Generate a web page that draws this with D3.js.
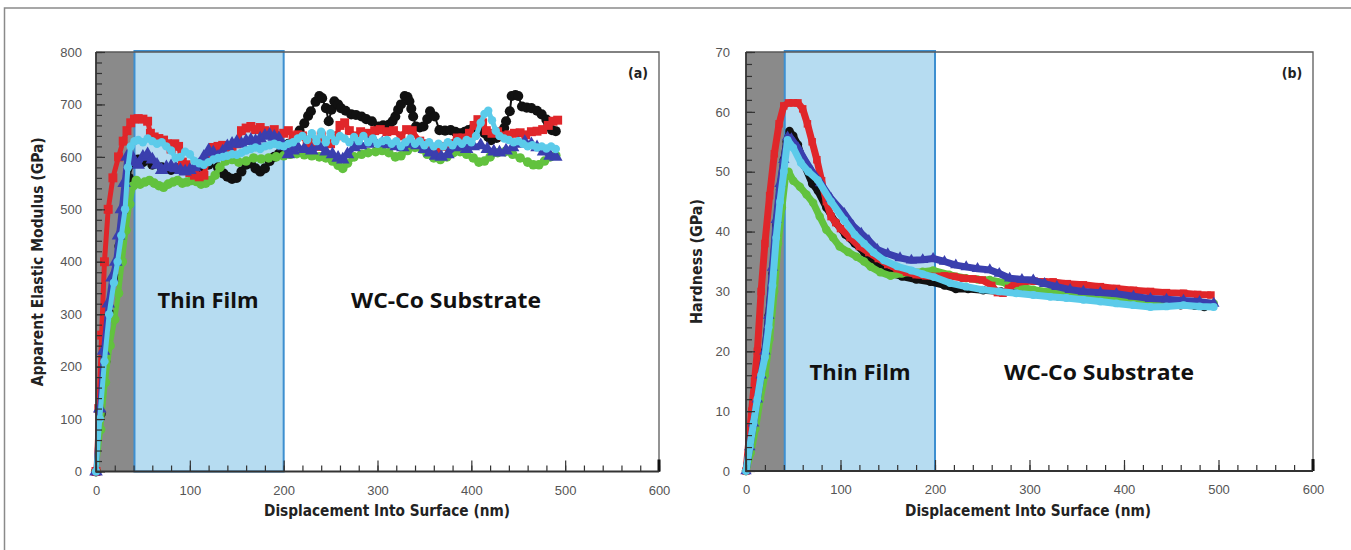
<!DOCTYPE html>
<html>
<head>
<meta charset="utf-8">
<script src="https://cdn.jsdelivr.net/npm/d3@7"></script>
<style>
  body { margin: 0; background: #fff; }
  svg { display: block; }
</style>
</head>
<body>
<svg id="fig" width="1351" height="550"></svg>
<script>
// ---- Axis ticks and labels ----
const depthTicks = [0, 100, 200, 300, 400, 500, 600];
const modulusTicks = [0, 100, 200, 300, 400, 500, 600, 700, 800];
const hardnessTicks = [0, 10, 20, 30, 40, 50, 60, 70];
const filmStart = 41;   // nm, end of the grey tip-contact zone
const filmEnd = 200;    // nm, film / substrate interface

// ---- (a) Apparent elastic modulus (GPa) vs depth (nm) ----
const modulusBlack = [[0,0],[5,110],[10,210],[15,300],[20,370],[25,430],[30,500],[35,560],[40,590],[45,595],[50,590],[60,585],[70,580],[80,575],[90,580],[100,575],[110,580],[120,585],[130,580],[136,568],[140,562],[145,558],[150,560],[155,572],[160,585],[165,588],[170,578],[175,572],[180,578],[185,592],[190,600],[195,606],[200,612],[205,625],[211,636],[217,650],[222,664],[226,678],[229,687],[234,705],[238,716],[241,712],[245,693],[248,668],[251,690],[254,706],[258,700],[261,693],[266,688],[272,681],[277,680],[283,677],[288,672],[294,668],[301,658],[306,660],[312,661],[316,668],[319,677],[322,690],[325,700],[329,716],[332,714],[334,706],[336,692],[338,677],[341,658],[345,656],[349,658],[353,672],[356,687],[361,677],[366,651],[372,650],[378,651],[383,648],[388,645],[393,648],[397,651],[402,655],[407,658],[411,652],[414,645],[418,638],[421,632],[427,636],[432,641],[435,655],[437,668],[441,687],[443,716],[447,718],[450,716],[454,696],[459,694],[464,693],[470,688],[475,681],[480,671],[482,661],[486,651],[490,649]];
const modulusGreen = [[0,0],[5,80],[10,170],[15,240],[20,290],[24,340],[28,400],[32,460],[36,510],[40,545],[43,555],[47,548],[52,552],[57,555],[62,550],[67,545],[72,542],[77,548],[82,552],[87,555],[92,550],[97,552],[102,555],[107,553],[112,548],[117,550],[122,555],[127,565],[132,580],[138,592],[145,595],[152,590],[160,592],[168,598],[176,596],[184,598],[192,600],[200,602],[207,605],[214,606],[222,604],[230,602],[238,600],[245,598],[252,592],[258,584],[263,578],[268,588],[275,600],[283,605],[290,608],[298,610],[305,612],[312,608],[319,600],[325,602],[332,612],[340,618],[347,615],[353,605],[360,598],[367,595],[374,600],[381,608],[388,610],[395,605],[402,598],[408,590],[414,592],[420,600],[428,608],[436,610],[444,605],[452,598],[460,590],[466,585],[472,585],[478,592],[484,600],[490,603]];
const modulusRed = [[0,0],[3,120],[6,260],[9,400],[13,500],[18,560],[24,600],[29,630],[33,650],[37,665],[41,672],[45,673],[50,672],[55,668],[58,645],[62,638],[67,635],[72,632],[76,625],[80,615],[84,625],[88,620],[92,590],[96,585],[100,570],[105,565],[110,562],[115,565],[120,600],[125,618],[130,620],[135,622],[140,618],[145,620],[150,625],[155,650],[160,655],[165,658],[170,652],[175,656],[180,650],[185,645],[190,652],[195,640],[200,645],[205,650],[210,640],[215,642],[220,640],[225,625],[230,632],[235,620],[240,640],[245,630],[250,625],[256,640],[260,660],[265,665],[270,650],[276,640],[282,648],[290,645],[297,650],[303,652],[310,648],[317,650],[325,640],[331,652],[337,650],[345,630],[352,625],[358,615],[364,612],[370,620],[378,625],[385,636],[391,636],[398,645],[403,660],[407,671],[412,665],[416,650],[422,645],[428,648],[434,640],[440,642],[446,645],[452,646],[458,642],[464,648],[470,649],[476,652],[482,660],[487,668],[492,670]];
const modulusBlue = [[0,0],[4,120],[8,230],[13,320],[17,370],[21,400],[24,450],[27,500],[30,550],[33,600],[37,605],[41,590],[45,585],[50,600],[55,605],[60,595],[65,585],[70,575],[75,580],[80,582],[85,578],[90,575],[95,572],[100,575],[105,580],[110,585],[115,600],[120,612],[125,608],[130,600],[135,610],[140,620],[145,625],[150,628],[155,625],[160,630],[165,632],[170,630],[175,635],[180,640],[185,642],[190,638],[195,635],[200,620],[205,605],[210,612],[215,618],[222,615],[230,612],[238,620],[245,610],[252,605],[258,598],[263,595],[268,605],[275,618],[282,622],[290,625],[297,628],[305,626],[312,624],[320,620],[327,618],[335,625],[342,622],[350,615],[356,608],[362,602],[368,600],[375,605],[382,618],[388,620],[395,615],[402,620],[410,622],[417,615],[424,610],[430,608],[437,612],[444,618],[450,625],[457,628],[464,624],[470,618],[477,610],[484,602],[490,600]];
const modulusCyan = [[0,0],[4,100],[9,210],[14,300],[19,360],[23,400],[27,450],[31,500],[34,580],[37,620],[41,630],[45,632],[50,628],[55,635],[60,630],[65,625],[70,628],[75,620],[80,612],[85,598],[90,600],[95,610],[100,605],[105,592],[110,588],[115,585],[120,590],[125,595],[130,598],[135,600],[140,602],[145,605],[150,604],[155,608],[160,612],[165,615],[170,618],[175,615],[180,620],[185,622],[190,625],[195,622],[200,620],[205,625],[210,628],[215,635],[220,640],[225,632],[230,645],[235,630],[240,648],[245,628],[250,645],[255,630],[260,640],[265,635],[270,628],[275,638],[280,630],[285,640],[290,628],[295,635],[300,625],[305,630],[310,632],[315,625],[320,630],[325,620],[330,628],[335,635],[340,625],[345,630],[350,622],[355,628],[360,620],[365,625],[370,620],[375,628],[380,622],[385,630],[390,625],[395,632],[400,628],[405,640],[410,665],[414,682],[418,688],[422,670],[426,650],[430,640],[435,635],[440,632],[445,628],[450,630],[455,625],[460,620],[465,622],[470,618],[475,620],[480,616],[485,620],[490,615]];

// ---- (b) Hardness (GPa) vs depth (nm) ----
const hardnessBlack = [[0,0],[4,4],[8,8],[12,12],[16,16],[20,20],[24,26],[28,33],[32,41],[36,47],[40,52],[43,55],[46,56.8],[50,56],[55,54.5],[62,51],[70,48],[76,46.8],[85,44],[95,41.5],[105,39.5],[115,38],[125,36.5],[135,35],[146,33.6],[153,33],[165,32.5],[180,32],[195,31.6],[210,31],[222,30.4],[235,30.4],[251,30.2],[270,30],[290,29.8],[310,29.5],[330,29.2],[350,29],[370,28.8],[389,28.6],[410,28.3],[430,28],[445,27.9],[460,27.7],[475,27.6],[485,27.4],[492,27.6]];
const hardnessGreen = [[0,0],[5,3],[10,7],[15,12],[20,16],[25,22],[30,30],[34,38],[38,44],[42,49.5],[45,50],[50,48.5],[57,47.5],[64,46.2],[71,44.8],[78,42.5],[85,40.3],[92,39],[99,37.5],[108,36.6],[117,35.8],[125,35],[132,34.1],[142,33.2],[153,32.6],[165,33],[175,33.2],[187,33.3],[198,33.5],[215,32.8],[233,32.2],[245,32],[258,31.9],[275,31.4],[290,30.8],[304,30.3],[322,29.9],[339,29.5],[357,29.2],[375,28.9],[392,28.7],[410,28.5],[428,28.4],[445,28.3],[463,28.2],[480,28.1],[495,28]];
const hardnessRed = [[0,0],[3,5],[6,10],[9,15],[12,20],[16,30],[20,38],[25,46],[30,53],[35,58],[40,61],[45,61.5],[50,61.5],[55,61.5],[60,60.5],[65,58],[70,55],[75,52],[80,48.5],[85,45],[90,42.5],[95,41.5],[100,40.5],[110,39],[120,37.5],[130,36.5],[140,35.5],[150,34.5],[160,33.8],[170,33.2],[180,32.8],[190,32.6],[200,32.5],[210,32.6],[220,32.5],[230,32.2],[240,32.1],[250,31.9],[260,31],[266,29.8],[272,29.7],[278,30.5],[285,31.4],[295,31.7],[305,31.7],[315,31.6],[325,31.6],[340,31.3],[357,31.1],[375,30.8],[392,30.5],[410,30.2],[428,30],[445,29.8],[463,29.7],[478,29.5],[492,29.4]];
const hardnessBlue = [[0,0],[4,4],[8,8],[12,12],[16,16],[20,20],[24,26],[28,34],[32,42],[36,48],[40,52],[44,55.8],[48,55.5],[55,54],[62,52],[70,50],[79,48.1],[90,45.5],[104,43],[113,41],[122,39.7],[130,38.5],[139,37],[150,36.3],[163,35.6],[175,35.2],[187,35.3],[198,35.5],[210,35],[222,34.4],[233,34.1],[245,33.8],[258,33.6],[268,33],[279,32.2],[292,32],[304,31.9],[316,31.3],[329,30.8],[343,30.3],[357,30],[375,29.8],[392,29.6],[410,29.2],[428,28.8],[445,28.7],[463,28.5],[480,28.3],[495,28]];
const hardnessCyan = [[0,0],[4,4],[8,8],[12,12],[16,16],[20,19],[24,24],[28,31],[32,39],[36,45],[40,50],[44,55.3],[50,54],[58,51.5],[66,50],[76,48.6],[90,45],[104,41.9],[115,39.5],[125,38],[135,36.5],[146,35.2],[160,34.2],[175,33.5],[187,32.9],[199,32.4],[216,31.4],[233,30.8],[250,30.3],[268,30],[286,29.7],[304,29.4],[322,29.1],[339,28.9],[357,28.6],[375,28.3],[392,28],[410,27.7],[428,27.4],[445,27.5],[463,27.7],[480,27.5],[495,27.4]];

// ---- Marker styles for the five indents (drawn bottom to top) ----
const seriesStyle = [
  { key: "black", color: "#111111", symbol: d3.symbolCircle   },
  { key: "green", color: "#62c23e", symbol: d3.symbolCircle   },
  { key: "red",   color: "#e0262a", symbol: d3.symbolSquare   },
  { key: "blue",  color: "#3a3fae", symbol: d3.symbolTriangle },
  { key: "cyan",  color: "#5ccbea", symbol: d3.symbolCircle   }
];

const panels = [
  {
    tag: "(a)", yTitle: "Apparent Elastic Modulus (GPa)",
    x0: 96, x1: 659, y0: 471.5, y1: 52,
    yMax: 800, yTicks: modulusTicks, yMinorStep: 20, yPad: 14,
    yTitleX: 38, yTitleLen: 249, xTitleX: 387,
    film: [208, 308], substrate: [446, 308],
    series: [modulusBlack, modulusGreen, modulusRed, modulusBlue, modulusCyan],
    lineW: [2, 5, 5, 5, 5],
    markSize: [80, 72, 80, 80, 56]
  },
  {
    tag: "(b)", yTitle: "Hardness (GPa)",
    x0: 746, x1: 1313, y0: 471, y1: 52,
    yMax: 70, yTicks: hardnessTicks, yMinorStep: 2, yPad: 16,
    yTitleX: 697, yTitleLen: 125, xTitleX: 1028,
    film: [860, 380], substrate: [1099, 380],
    series: [hardnessBlack, hardnessGreen, hardnessRed, hardnessBlue, hardnessCyan],
    lineW: [7, 7, 7, 7, 7],
    markSize: [56, 56, 56, 56, 48]
  }
];

const svg = d3.select("#fig");
const narrow = "'Liberation Sans Narrow', 'DejaVu Sans Condensed', 'Liberation Sans', sans-serif";

// figure border (top and left edges)
svg.append("path")
  .attr("d", "M4.5,550 V8 H1351")
  .attr("fill", "none").attr("stroke", "#8a8a8a").attr("stroke-width", 1.5);

panels.forEach(p => {
  const x = d3.scaleLinear().domain([0, 600]).range([p.x0, p.x1]);
  const y = d3.scaleLinear().domain([0, p.yMax]).range([p.y0, p.y1]);
  const g = svg.append("g");

  // contact zone and thin-film zone
  g.append("rect")
    .attr("x", x(0)).attr("y", y(p.yMax))
    .attr("width", x(filmStart) - x(0)).attr("height", y(0) - y(p.yMax))
    .attr("fill", "#8a8a8a");
  g.append("rect")
    .attr("x", x(filmStart)).attr("y", y(p.yMax) - 1)
    .attr("width", x(filmEnd) - x(filmStart)).attr("height", y(0) - y(p.yMax) + 1)
    .attr("fill", "#b6dcf1").attr("stroke", "#3d8fd0").attr("stroke-width", 2);

  // zone labels
  const zoneFont = "'Open Sans', Lato, sans-serif";
  g.append("text").text("Thin Film")
    .attr("x", p.film[0]).attr("y", p.film[1])
    .attr("text-anchor", "middle").attr("font-family", zoneFont)
    .attr("font-weight", 700).attr("font-size", 22).attr("fill", "#111")
    .attr("textLength", 101).attr("lengthAdjust", "spacingAndGlyphs");
  g.append("text").text("WC-Co Substrate")
    .attr("x", p.substrate[0]).attr("y", p.substrate[1])
    .attr("text-anchor", "middle").attr("font-family", zoneFont)
    .attr("font-weight", 700).attr("font-size", 22).attr("fill", "#111")
    .attr("textLength", 190).attr("lengthAdjust", "spacingAndGlyphs");

  // data series
  const line = d3.line().x(d => x(d[0])).y(d => y(d[1]));
  p.series.forEach((data, i) => {
    const st = seriesStyle[i];
    const sg = g.append("g");
    sg.append("path").datum(data)
      .attr("d", line)
      .attr("fill", "none").attr("stroke", st.color)
      .attr("stroke-width", p.lineW[i]).attr("stroke-linejoin", "round");
    sg.selectAll("path.mk").data(data).join("path")
      .attr("class", "mk")
      .attr("transform", d => `translate(${x(d[0])},${y(d[1])})`)
      .attr("d", d3.symbol().type(st.symbol).size(p.markSize[i]))
      .attr("fill", st.color);
  });

  // frame: top and right edges
  g.append("path")
    .attr("d", `M${x(0)},${y(p.yMax)} H${x(600)} V${y(0)}`)
    .attr("fill", "none").attr("stroke", "#5a5a5a").attr("stroke-width", 1.3);

  // x axis: minor ticks every 20 nm, labelled ticks every 100 nm, ticks point inward
  const xMinor = g.append("g").attr("transform", `translate(0,${y(0)})`)
    .call(d3.axisBottom(x).tickValues(d3.range(0, 601, 20)).tickSize(-6).tickFormat(""));
  const xMajor = g.append("g").attr("transform", `translate(0,${y(0)})`)
    .call(d3.axisBottom(x).tickValues(depthTicks).tickSizeInner(-11).tickSizeOuter(0).tickPadding(14));
  [xMinor, xMajor].forEach(a => {
    a.select(".domain").remove();
    a.selectAll("line").attr("stroke", "#333").attr("stroke-width", 1.2);
  });
  xMajor.selectAll("text").attr("font-family", "'Liberation Sans', Arial, sans-serif")
    .attr("font-size", 13).attr("fill", "#555");
  g.append("line")
    .attr("x1", x(600)).attr("x2", x(600)).attr("y1", y(0)).attr("y2", y(0) - 12)
    .attr("stroke", "#111").attr("stroke-width", 3);

  // y axis: minor and labelled ticks, pointing inward
  const yMinor = g.append("g").attr("transform", `translate(${x(0)},0)`)
    .call(d3.axisLeft(y).tickValues(d3.range(0, p.yMax + 0.001, p.yMinorStep)).tickSize(-6).tickFormat(""));
  const yMajor = g.append("g").attr("transform", `translate(${x(0)},0)`)
    .call(d3.axisLeft(y).tickValues(p.yTicks).tickSizeInner(-9).tickSizeOuter(0).tickPadding(p.yPad));
  [yMinor, yMajor].forEach(a => {
    a.select(".domain").remove();
    a.selectAll("line").attr("stroke", "#333").attr("stroke-width", 1.2);
  });
  yMajor.selectAll("text").attr("font-family", "'Liberation Sans', Arial, sans-serif")
    .attr("font-size", 13).attr("fill", "#555");

  // axis lines
  g.append("path")
    .attr("d", `M${x(0)},${y(p.yMax)} V${y(0)} H${x(600)}`)
    .attr("fill", "none").attr("stroke", "#333").attr("stroke-width", 1.8);

  // axis titles
  g.append("text").text("Displacement Into Surface (nm)")
    .attr("x", p.xTitleX).attr("y", 516)
    .attr("text-anchor", "middle").attr("font-family", narrow)
    .attr("font-weight", 700).attr("font-size", 15.5).attr("fill", "#222")
    .attr("textLength", 246).attr("lengthAdjust", "spacingAndGlyphs");
  g.append("text").text(p.yTitle)
    .attr("transform", `translate(${p.yTitleX},${(p.y0 + p.y1) / 2}) rotate(-90)`)
    .attr("text-anchor", "middle").attr("dominant-baseline", "central")
    .attr("font-family", narrow)
    .attr("font-weight", 700).attr("font-size", 15.5).attr("fill", "#222")
    .attr("textLength", p.yTitleLen).attr("lengthAdjust", "spacingAndGlyphs");

  // panel tag
  g.append("text").text(p.tag)
    .attr("x", x(600) - 21).attr("y", 78)
    .attr("text-anchor", "middle").attr("font-family", narrow)
    .attr("font-weight", 700).attr("font-size", 14).attr("fill", "#222");
});
</script>
</body>
</html>
